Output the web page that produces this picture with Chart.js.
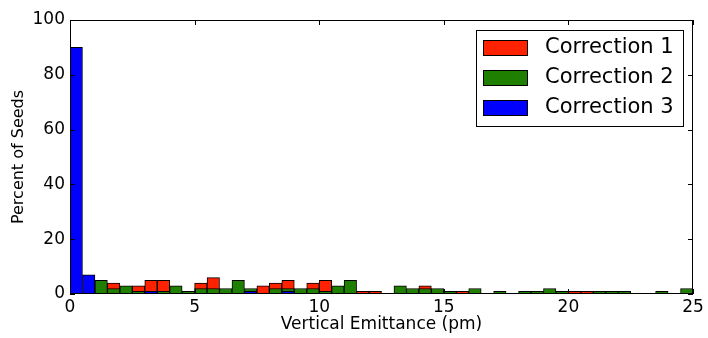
<!DOCTYPE html>
<html>
<head>
<meta charset="utf-8">
<script src="https://cdn.jsdelivr.net/npm/chart.js@4/dist/chart.umd.min.js"></script>
<style>
  html, body { margin: 0; padding: 0; background: #fff; }
  #wrap { width: 708px; height: 338px; }
</style>
</head>
<body>
<div id="wrap"><canvas id="hist" width="708" height="338"></canvas></div>
<script>
// histogram bin centres (bins are 0.5 pm wide, 0 to 25 pm)
const binCenters = [
  0.25, 0.75, 1.25, 1.75, 2.25, 2.75, 3.25, 3.75, 4.25, 4.75,
  5.25, 5.75, 6.25, 6.75, 7.25, 7.75, 8.25, 8.75, 9.25, 9.75,
  10.25, 10.75, 11.25, 11.75, 12.25, 12.75, 13.25, 13.75, 14.25, 14.75,
  15.25, 15.75, 16.25, 16.75, 17.25, 17.75, 18.25, 18.75, 19.25, 19.75,
  20.25, 20.75, 21.25, 21.75, 22.25, 22.75, 23.25, 23.75, 24.25, 24.75
]

// percent of seeds per bin, null = empty bin
const correction1 = [
  null, null, null, 4, null, 3, 5, 5, null, null,
  4, 6, null, null, null, 3, 4, 5, null, 4,
  5, null, null, 1, 1, null, null, null, 3, null,
  null, 1, null, null, null, null, null, null, null, null,
  1, 1, null, null, null, null, null, null, null, null
]
const correction2 = [
  null, null, 5, 2, 3, 1, 1, 1, 3, 1,
  2, 2, 2, 5, 2, null, 2, 2, 2, 2,
  1, 3, 5, null, null, null, 3, 2, 2, 2,
  1, null, 2, null, 1, null, 1, 1, 2, 1,
  null, null, 1, 1, 1, null, null, 1, null, 2
]
const correction3 = [
  90, 7, null, null, null, null, 1, null, null, null,
  null, null, null, null, 1, null, null, 1, null, null,
  null, null, null, null, null, null, null, null, null, null,
  null, null, null, null, null, null, null, null, null, null,
  null, null, null, null, null, null, null, null, null, null
]

const xTicks = [0, 5, 10, 15, 20, 25]
const yTicks = [0, 20, 40, 60, 80, 100]

const seriesNames = ["Correction 1", "Correction 2", "Correction 3"]
const seriesColors = ["#ff2200", "#1f7f00", "#0000ff"]

function points(values) {
  return binCenters.map((x, i) => ({ x: x, y: values[i] }))
}

// matplotlib-style frame with inward ticks on all four sides
const framePlugin = {
  id: "frame",
  afterDatasetsDraw(chart) {
    const { ctx, chartArea: a, scales } = chart
    ctx.save()
    ctx.strokeStyle = "#000"
    ctx.lineWidth = 1
    ctx.strokeRect(a.left + 0.5, a.top + 0.5, a.right - a.left - 1, a.bottom - a.top - 1)
    ctx.beginPath()
    xTicks.forEach(v => {
      const px = Math.round(scales.x.getPixelForValue(v)) + 0.5
      ctx.moveTo(px, a.bottom)
      ctx.lineTo(px, a.bottom - 5)
      ctx.moveTo(px, a.top)
      ctx.lineTo(px, a.top + 5)
    })
    yTicks.forEach(v => {
      const py = Math.round(scales.y.getPixelForValue(v)) + 0.5
      ctx.moveTo(a.left, py)
      ctx.lineTo(a.left + 5, py)
      ctx.moveTo(a.right, py)
      ctx.lineTo(a.right - 5, py)
    })
    ctx.stroke()
    ctx.restore()
  }
}

// boxed legend in the upper right corner of the plot
const legendBoxPlugin = {
  id: "legendBox",
  afterDraw(chart) {
    const { ctx, chartArea: a } = chart
    const boxW = 207, boxH = 96
    const x0 = a.right - 10 - boxW
    const y0 = a.top + 10
    ctx.save()
    ctx.fillStyle = "#fff"
    ctx.fillRect(x0, y0, boxW, boxH)
    ctx.strokeStyle = "#000"
    ctx.lineWidth = 1
    ctx.strokeRect(x0 + 0.5, y0 + 0.5, boxW, boxH)
    ctx.font = "21px 'DejaVu Sans'"
    ctx.textBaseline = "middle"
    chart.data.datasets.forEach((ds, i) => {
      const sy = y0 + 10 + i * 30
      ctx.fillStyle = ds.backgroundColor
      ctx.fillRect(x0 + 7, sy, 44, 15)
      ctx.strokeRect(x0 + 7.5, sy + 0.5, 44, 15)
      ctx.fillStyle = "#000"
      ctx.fillText(ds.label, x0 + 69, sy + 8)
    })
    ctx.restore()
  }
}

const datasets = [correction1, correction2, correction3].map((vals, i) => ({
  label: seriesNames[i],
  data: points(vals),
  backgroundColor: seriesColors[i],
  borderColor: "#000",
  borderWidth: 1,
  borderSkipped: false,
  barPercentage: 1,
  categoryPercentage: 1,
  grouped: false,
  order: 3 - i
}))

new Chart(document.getElementById("hist"), {
  type: "bar",
  data: { datasets },
  options: {
    responsive: false,
    animation: false,
    events: [],
    layout: { padding: { top: 20, right: 15, left: 0, bottom: 0 } },
    font: { family: "'DejaVu Sans'" },
    plugins: {
      legend: { display: false },
      tooltip: { enabled: false }
    },
    scales: {
      x: {
        type: "linear",
        min: 0,
        max: 25,
        offset: false,
        afterFit: s => { s.height = 44 },
        afterBuildTicks: s => { s.ticks = xTicks.map(v => ({ value: v })) },
        grid: { display: false, drawTicks: false },
        border: { display: false },
        ticks: {
          padding: 3,
          color: "#000",
          font: { size: 17, family: "'DejaVu Sans'" }
        },
        title: {
          display: true,
          text: "Vertical Emittance (pm)",
          color: "#000",
          font: { size: 17, family: "'DejaVu Sans'" },
          padding: { top: 0, bottom: 3 }
        }
      },
      y: {
        min: 0,
        max: 100,
        afterFit: s => { s.width = 70 },
        afterBuildTicks: s => { s.ticks = yTicks.map(v => ({ value: v })) },
        grid: { display: false, drawTicks: false },
        border: { display: false },
        ticks: {
          padding: 5,
          color: "#000",
          font: { size: 17, family: "'DejaVu Sans'" }
        },
        title: {
          display: true,
          text: "Percent of Seeds",
          color: "#000",
          font: { size: 16, family: "'DejaVu Sans'" },
          padding: { top: 9, bottom: 0 }
        }
      }
    }
  },
  plugins: [framePlugin, legendBoxPlugin]
})
</script>
</body>
</html>
